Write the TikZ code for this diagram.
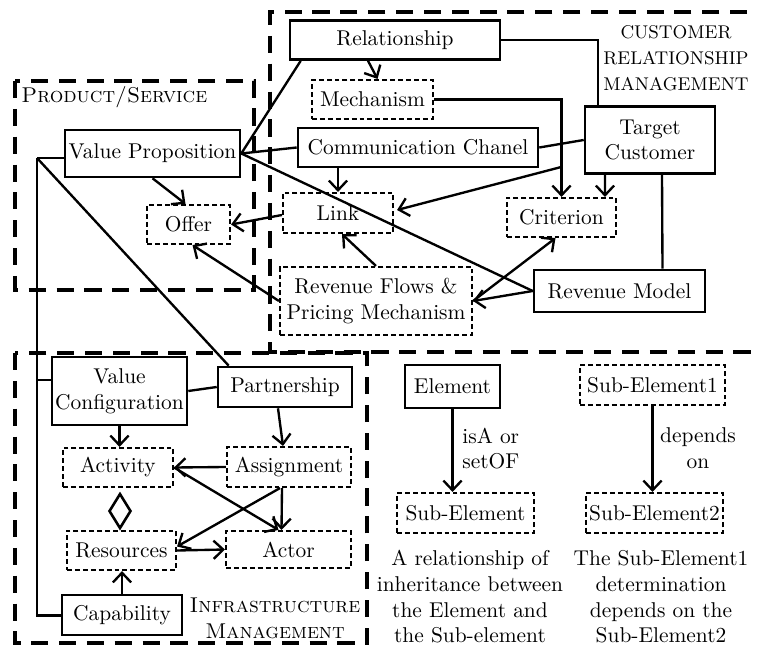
\documentclass[tikz,border=0pt]{standalone}
\usetikzlibrary{arrows.meta}
\begin{document}
\begin{tikzpicture}[x=0.467pt,y=-0.467pt,
  box/.style 2 args={draw,line width=1.2pt,inner sep=0pt,align=center,
    minimum width=#1*0.467pt,minimum height=#2*0.467pt},
  dbox/.style 2 args={box={#1}{#2},line width=1pt,dash pattern=on 2.3pt off 1.4pt},
  region/.style={line width=1.9pt,dash pattern=on 8pt off 5pt},
  link/.style={line width=1.1pt},
  arr/.style={link,-{Straight Barb[length=4.5pt,width=8.5pt,line width=1.1pt]}},
  lbl/.style={inner sep=0pt,align=center}]
\useasboundingbox (0,0) rectangle (758,646);

% dashed regions
\draw[region] (15,81) rectangle (254,290);
\draw[region] (775,12) -- (270,12) -- (270,352) -- (775,352);
\draw[region] (15,353) rectangle (367,643);

% region titles
\node[lbl,anchor=west] at (21,97) {\textsc{Product/Service}};
\node[lbl,font=\fontsize{8.6}{12.2}\selectfont] at (676,58) {CUSTOMER\\RELATIONSHIP\\MANAGEMENT};
\node[lbl] at (275,618) {\textsc{Infrastructure}\\\textsc{Management}};

% elements
\node[box={210}{39}] (Rel) at (395,40) {Relationship};
\node[dbox={121}{39}] (Mech) at (372.5,99.5) {Mechanism};
\node[box={240}{39}] (CC) at (418,147.5) {Communication Chanel};
\node[box={130}{67}] (TC) at (650,140) {Target\\Customer};
\node[box={175}{47}] (VP) at (152.5,153.5) {Value Proposition};
\node[dbox={83}{39}] (Offer) at (188.5,224.5) {Offer};
\node[dbox={110}{40}] (Link) at (338,213) {Link};
\node[dbox={109}{39}] (Crit) at (561.5,217.5) {Criterion};
\node[dbox={192}{68}] (RF) at (376,301) {Revenue Flows \&\\Pricing Mechanism};
\node[box={171}{42}] (RM) at (619.5,291) {Revenue Model};
\node[box={135}{68}] (VC) at (119.5,391) {Value\\Configuration};
\node[box={134}{40}] (Part) at (285,387) {Partnership};
\node[dbox={110}{39}] (Act) at (118,467.5) {Activity};
\node[dbox={124}{40}] (Assign) at (289,467) {Assignment};
\node[dbox={109}{39}] (Res) at (121.5,550.5) {Resources};
\node[dbox={125}{37}] (Actor) at (288.5,549.5) {Actor};
\node[box={120}{40}] (Cap) at (122,615) {Capability};

% legend
\node[box={95}{43}] (El) at (452.5,386.5) {Element};
\node[dbox={137}{40}] (SubEl) at (465.5,513) {Sub-Element};
\node[dbox={145}{40}] (SE1) at (652.5,385) {Sub-Element1};
\node[dbox={137}{40}] (SE2) at (654.5,513) {Sub-Element2};
\draw[arr] (El.south) -- (El.south |- SubEl.north);
\draw[arr] (SE1.south) -- (SE1.south |- SE2.north);
\node[lbl,anchor=west,align=left] (isa) at (462,448.5) {isA or\\setOF};
\node[lbl] (dep) at (698,448.5) {depends\\on};
\node[lbl] (cap1) at (470,597) {A relationship of\\inheritance between\\the Element and\\the Sub-element};
\node[lbl] (cap2) at (661,597) {The Sub-Element1\\determination\\depends on the\\Sub-Element2};

% customer relationship connectors
\draw[arr] ([shift={(-27,0)}]Rel.south) -- ([shift={(5,0)}]Mech.north);
\draw[link] (Rel.east) -| ([shift={(-52,0)}]TC.north);
\draw[link] ([shift={(12,0)}]Rel.south west) -- (VP.east);
\draw[link] (CC.west) -- (VP.east);
\draw[link] (CC.east) -- (TC.west);
\draw[link] (VP.east) -- (RM.west);
\draw[arr] (VP.south) -- ([shift={(-3,0)}]Offer.north);
\draw[arr] (CC.south -| Link.north) -- (Link.north);
\draw[arr] ([shift={(0,2)}]Link.west) -- (Offer.east);
\draw[arr] (RF.north) -- ([shift={(4,0)}]Link.south);
\draw[arr] (RF.west) -- ([shift={(4,0)}]Offer.south);
\draw[arr] (Mech.east) -| (Crit.north);
\draw[arr] ([shift={(0,-30)}]Crit.north) -- ([shift={(3,-3)}]Link.east);
\draw[arr] ([shift={(-45,0)}]TC.south) -- ([shift={(43.5,0)}]Crit.north);
\draw[link] ([shift={(12,0)}]TC.south) -- ([shift={(43,0)}]RM.north);
\draw[arr] (RM.west) -- (RF.east);
\draw[arr] (RF.east) -- ([shift={(-6,0)}]Crit.south);

% left spine from the value proposition
\coordinate (J) at (37,158);
\coordinate (JV) at (37,380);
\draw[link] (J) -- (J -| VP.west);
\draw[link,line width=1.4pt] (J) |- (Cap.west);
\draw[link] (JV) -- (JV -| VC.west);
\draw[link] (J) -- ([shift={(12,0)}]Part.north west);

% infrastructure connectors
\draw[link] (VC.east) -- (Part.west);
\draw[arr] (VC.south) -- (VC.south |- Act.north);
\draw[arr] ([shift={(-7,0)}]Part.south) -- ([shift={(-6,0)}]Assign.north);
\draw[arr] (Assign.west) -- (Act.east);
\draw[arr] (Act.east) -- ([shift={(-10,0)}]Actor.north);
\draw[arr] ([shift={(-7,0)}]Assign.south) -- ([shift={(-7,0)}]Actor.north);
\draw[arr] ([shift={(-9,0)}]Assign.south) -- ([shift={(0,-4)}]Res.east);
\draw[arr] (Res.east) -- (Actor.west);
\draw[line width=1.2pt] ([shift={(2,6)}]Act.south) -- ++(10.5,17) -- ++(-10.5,17) -- ++(-10.5,-17) -- cycle;
\draw[arr] (Cap.north) -- (Cap.north |- Res.south);
\end{tikzpicture}
\end{document}
